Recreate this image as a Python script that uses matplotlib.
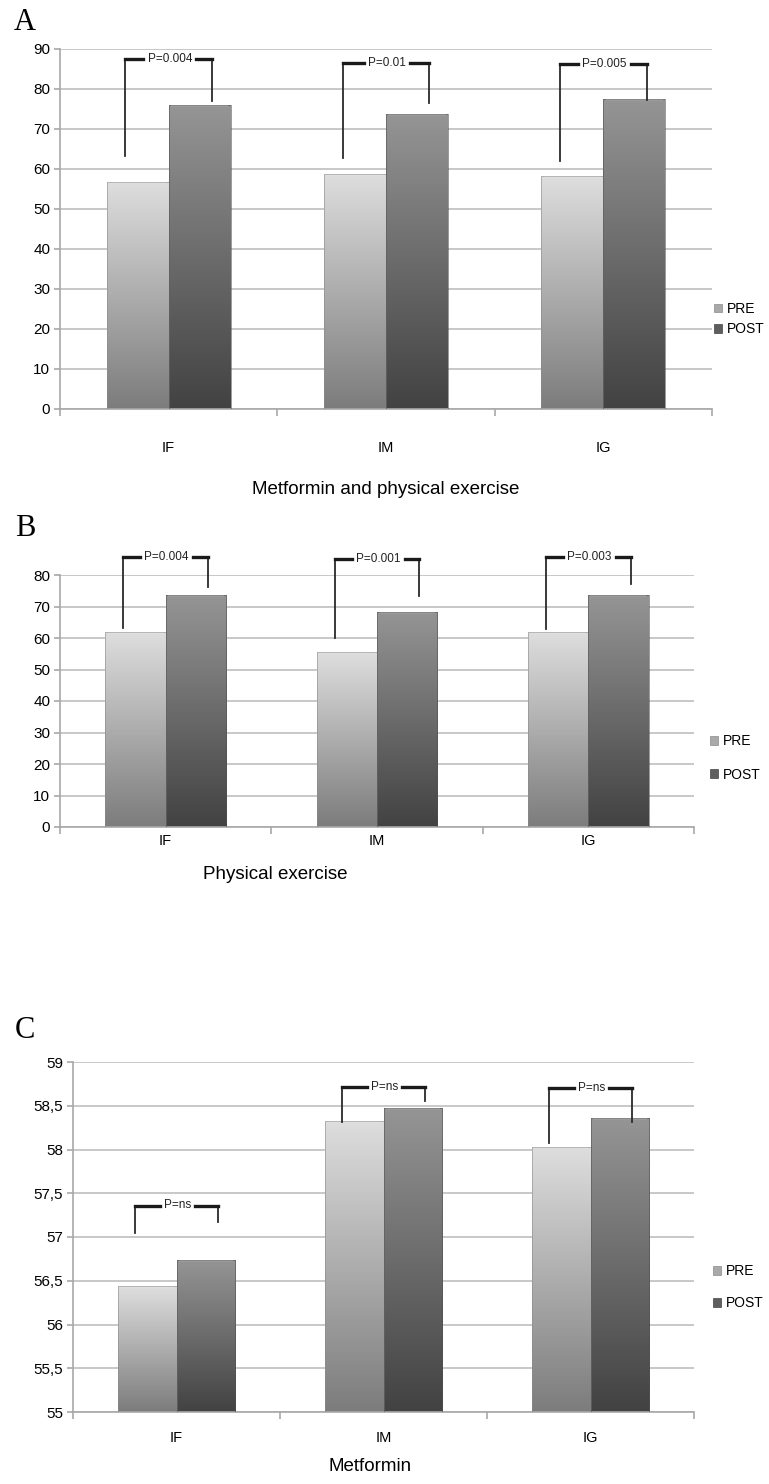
import matplotlib.pyplot as plt
import numpy as np
from matplotlib.patches import Patch
from matplotlib.colors import LinearSegmentedColormap
from matplotlib.ticker import FuncFormatter

plt.rcParams['font.family'] = ['Liberation Sans', 'DejaVu Sans']

groups = ['IF', 'IM', 'IG']
series = ['PRE', 'POST']

# Panel A - Metformin and physical exercise
a_pre = [56.8, 58.8, 58.2]
a_post = [76.0, 73.8, 77.4]
a_pval = ['P=0.004', 'P=0.01', 'P=0.005']
a_br_left = [63.2, 62.7, 62.1]
a_br_top = [87.4, 86.6, 86.3]
a_br_right = [77.1, 76.6, 77.3]

# Panel B - Physical exercise
b_pre = [61.8, 55.5, 61.9]
b_post = [73.5, 68.4, 73.5]
b_pval = ['P=0.004', 'P=0.001', 'P=0.003']
b_br_left = [63.2, 60.0, 63.0]
b_br_top = [85.6, 85.2, 85.6]
b_br_right = [76.1, 73.3, 77.1]

# Panel C - Metformin
c_pre = [56.44, 58.33, 58.03]
c_post = [56.74, 58.47, 58.36]
c_pval = ['P=ns', 'P=ns', 'P=ns']
c_br_left = [57.05, 58.31, 58.07]
c_br_top = [57.36, 58.72, 58.70]
c_br_right = [57.17, 58.56, 58.31]

PRE_COLS = ('#7c7c7c', '#dedede')   # bottom, top
POST_COLS = ('#424242', '#959595')
GRID = '#c4c4c4'
AXC = '#a8a8a8'

fig = plt.figure(figsize=(7.69, 14.84), dpi=100)
W, H = 769.0, 1484.0


def px_axes(l, r, top, bot):
    return fig.add_axes([l / W, 1 - bot / H, (r - l) / W, (bot - top) / H])


def shade(ax, bars, cols):
    ylo = ax.get_ylim()[0]
    cmap = LinearSegmentedColormap.from_list('g', list(cols))
    grad = np.linspace(0, 1, 256).reshape(-1, 1)
    for b in bars:
        x0, w = b.get_x(), b.get_width()
        y1 = b.get_y() + b.get_height()
        y0 = max(b.get_y(), ylo)
        im = ax.imshow(grad, extent=[x0, x0 + w, y0, y1], origin='lower',
                       cmap=cmap, aspect='auto', zorder=2, interpolation='bilinear')
        im.set_clip_path(b)
        ax.plot([x0 + 0.01, x0 + w - 0.01], [y1, y1], color='white', alpha=0.55,
                lw=1.6, zorder=3, solid_capstyle='butt')


def panel(ax, pre, post, ylim, step, pad, fmt=None):
    x = np.arange(len(groups))
    w = 0.285
    ax.set_xlim(-0.5, 2.5)
    ax.set_ylim(ylim)
    b1 = ax.bar(x - w / 2, pre, w, color='none', edgecolor='#8a8a8a', lw=0.4, zorder=4)
    b2 = ax.bar(x + w / 2, post, w, color='none', edgecolor='#505050', lw=0.4, zorder=4)
    shade(ax, b1, PRE_COLS)
    shade(ax, b2, POST_COLS)
    ax.set_xlim(-0.5, 2.5)
    ax.set_ylim(ylim)
    ax.set_yticks(np.arange(ylim[0], ylim[1] + step / 2, step))
    if fmt:
        ax.yaxis.set_major_formatter(FuncFormatter(fmt))
    ax.yaxis.grid(True, color=GRID, lw=1.3)
    ax.set_axisbelow(True)
    for s in ['top', 'right']:
        ax.spines[s].set_visible(False)
    for s in ['left', 'bottom']:
        ax.spines[s].set_color(AXC)
        ax.spines[s].set_linewidth(1.2)
    ax.set_xticks([-0.5, 0.5, 1.5, 2.5])
    ax.set_xticklabels([])
    ax.set_xticks(x, groups, minor=True)
    ax.tick_params(axis='x', which='major', length=5, color=AXC, width=1.2)
    ax.tick_params(axis='x', which='minor', length=0, pad=pad, labelsize=10.5)
    ax.tick_params(axis='y', length=4, color=AXC, width=1.2, labelsize=11, pad=3)
    return x


def brackets(ax, x, pvals, left, top, right):
    fig.canvas.draw()
    rend = fig.canvas.get_renderer()
    inv = ax.transData.inverted()
    for xc, p, yl, yt, yr in zip(x, pvals, left, top, right):
        xl, xr = xc - 0.2, xc + 0.2
        t = ax.text(xc + 0.005, yt, p, ha='center', va='center', fontsize=8.5,
                    color='#222222', zorder=6, clip_on=False)
        bb = t.get_window_extent(rend).transformed(inv)
        ax.plot([xl, xl], [yl, yt], color='#2a2a2a', lw=1.3, zorder=5, clip_on=False)
        ax.plot([xr, xr], [yr, yt], color='#2a2a2a', lw=1.3, zorder=5, clip_on=False)
        ax.plot([xl, bb.x0 - 0.02], [yt, yt], color='#1a1a1a', lw=2.4, zorder=5,
                clip_on=False, solid_capstyle='projecting')
        ax.plot([bb.x1 + 0.02, xr], [yt, yt], color='#1a1a1a', lw=2.4, zorder=5,
                clip_on=False, solid_capstyle='projecting')


def legend(ax, xa, ya, spacing):
    handles = [Patch(facecolor='#a9a9a9', edgecolor='#8a8a8a', lw=0.5),
               Patch(facecolor='#5e5e5e', edgecolor='#444444', lw=0.5)]
    ax.legend(handles, series, loc='center left', bbox_to_anchor=(xa, ya),
              frameon=False, fontsize=10, handlelength=0.6, handleheight=0.6,
              handletextpad=0.35, labelspacing=spacing, borderaxespad=0, borderpad=0)


# A
axA = px_axes(60, 712, 49, 409)
xA = panel(axA, a_pre, a_post, (0, 90), 10, 23)
brackets(axA, xA, a_pval, a_br_left, a_br_top, a_br_right)
legend(axA, 1.003, 0.25, 0.45)
axA.text(0.5, -0.225, 'Metformin and physical exercise', transform=axA.transAxes,
         ha='center', va='center', fontsize=13.5)
fig.text(25 / W, 1 - 22 / H, 'A', family='Liberation Serif', fontsize=22,
         ha='center', va='center')

# B
axB = px_axes(60, 694, 575, 827)
xB = panel(axB, b_pre, b_post, (0, 80), 10, 5)
brackets(axB, xB, b_pval, b_br_left, b_br_top, b_br_right)
legend(axB, 1.025, 0.274, 1.4)
axB.text(0.339, -0.187, 'Physical exercise', transform=axB.transAxes,
         ha='center', va='center', fontsize=13.5)
fig.text(25 / W, 1 - 528 / H, 'B', family='Liberation Serif', fontsize=22,
         ha='center', va='center')

# C
axC = px_axes(73, 694, 1062, 1412)
xC = panel(axC, c_pre, c_post, (55, 59), 0.5, 14,
           fmt=lambda v, pos: f'{v:g}'.replace('.', ','))
brackets(axC, xC, c_pval, c_br_left, c_br_top, c_br_right)
legend(axC, 1.03, 0.357, 1.3)
axC.text(0.478, -0.157, 'Metformin', transform=axC.transAxes,
         ha='center', va='center', fontsize=13.5)
fig.text(25 / W, 1 - 1031 / H, 'C', family='Liberation Serif', fontsize=22,
         ha='center', va='center')

fig.savefig('out.png', dpi=100)
